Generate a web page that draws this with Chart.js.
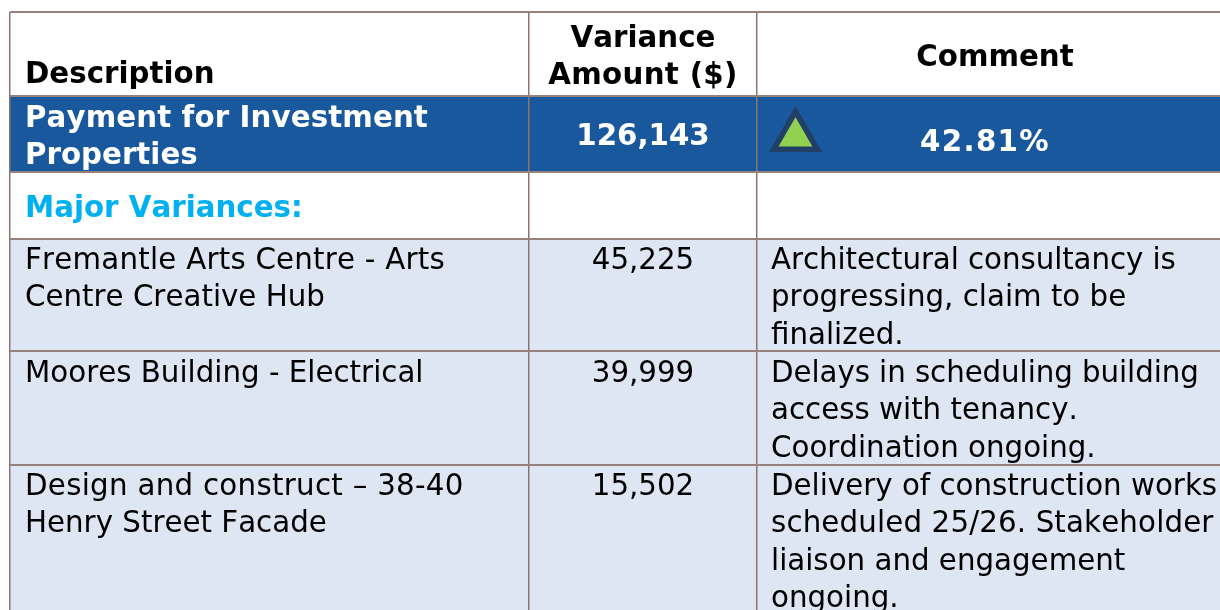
<!DOCTYPE html>
<html>
<head>
<meta charset="utf-8">
<style>
html, body { margin: 0; padding: 0; background: #fff; overflow: hidden; }
#wrap { width: 1220px; height: 610px; }
</style>
<script src="https://cdn.jsdelivr.net/npm/chart.js@4"></script>
</head>
<body>
<div id="wrap"><canvas id="table"></canvas></div>
<script>
var headers = [["Description"], ["Variance", "Amount ($)"], ["Comment"]];
var totalDescription = ["Payment for Investment", "Properties"];
var totalAmount = "126,143";
var totalPercent = "42.81%";
var sectionLabel = "Major Variances:";
var descriptions = [
  ["Fremantle Arts Centre - Arts", "Centre Creative Hub"],
  ["Moores Building - Electrical"],
  ["Design and construct \u2013 38-40", "Henry Street Facade"]
];
var amounts = ["45,225", "39,999", "15,502"];
var comments = [
  ["Architectural consultancy is", "progressing, claim to be", "finalized."],
  ["Delays in scheduling building", "access with tenancy.", "Coordination ongoing."],
  ["Delivery of construction works", "scheduled 25/26. Stakeholder", "liaison and engagement", "ongoing."]
];

// layout, in the pixels of the picture (axes run in picture pixels)
var colEdges = [10, 529, 757];
var rowEdges = [12, 96, 172, 239, 351, 465];
var rowBaselines = [269, 382, 495];
var lineHeight = 37.4;
var font = '"DejaVu Sans", Verdana, sans-serif';
var border = "#8c7470";
// the reference face is a little wider on some lines than DejaVu
var letterSpacing = {
  "Payment for Investment": 0.1,
  "Fremantle Arts Centre - Arts": 0.22,
  "Design and construct \u2013 38-40": 0.28,
  "42.81%": 1.3,
  "Amount ($)": 0.3,
  "Architectural consultancy is": -0.07,
  "Delays in scheduling building": -0.07,
  "scheduled 25/26. Stakeholder": 0.14
};

function band(top, bottom, color) {
  return {
    type: "bar",
    data: [{ x: [colEdges[0], 1220], y: (top + bottom) / 2 }],
    backgroundColor: color,
    barThickness: bottom - top,
    grouped: false,
    order: 3
  };
}

var drawText = {
  id: "drawText",
  afterDatasetsDraw: function (chart) {
    var c = chart.ctx, xs = chart.scales.x, ys = chart.scales.y;
    function put(lines, x, y, align, weight, color) {
      c.font = weight + " 29.3px " + font;
      c.fontKerning = "none";
      c.textAlign = align;
      c.textBaseline = "alphabetic";
      c.fillStyle = color;
      lines.forEach(function (t, i) {
        c.letterSpacing = (letterSpacing[t] || 0) + "px";
        c.fillText(t, xs.getPixelForValue(x), ys.getPixelForValue(y + i * lineHeight));
      });
    }
    c.save();
    put(headers[0], 25, 83, "left", "bold", "#000");
    put(headers[1], 643, 47, "center", "bold", "#000");
    put(headers[2], 995, 66, "center", "bold", "#000");
    put(totalDescription, 25, 127, "left", "bold", "#fff");
    put([totalAmount], 643, 145, "center", "bold", "#fff");
    put([totalPercent], 985, 151, "center", "bold", "#fff");
    put([sectionLabel], 25, 217, "left", "bold", "#00b0f0");
    descriptions.forEach(function (d, i) {
      put(d, 25, rowBaselines[i], "left", "normal", "#000");
      put([amounts[i]], 643, rowBaselines[i], "center", "normal", "#000");
      put(comments[i], 771, rowBaselines[i], "left", "normal", "#000");
    });
    c.restore();
  }
};

new Chart(document.getElementById("table"), {
  data: {
    datasets: [
      band(rowEdges[1], rowEdges[2], "#19589c"),
      band(rowEdges[3], 610, "#dfe6f3"),
      {
        type: "scatter",
        data: [{ x: 795.5, y: 136.7 }],
        pointStyle: "triangle",
        pointRadius: 25.1,
        pointBackgroundColor: "#92d050",
        pointBorderColor: "#223f66",
        pointBorderWidth: 5.5,
        order: 1
      }
    ]
  },
  options: {
    indexAxis: "y",
    responsive: true,
    maintainAspectRatio: false,
    animation: false,
    layout: { autoPadding: false, padding: { left: colEdges[0], top: rowEdges[0], right: 0, bottom: 0 } },
    plugins: { legend: { display: false }, tooltip: { enabled: false } },
    scales: {
      x: {
        type: "linear", min: colEdges[0], max: 1220, display: true,
        afterFit: function (s) { s.height = 0; },
        afterBuildTicks: function (s) { s.ticks = colEdges.map(function (v) { return { value: v }; }); },
        ticks: { display: false },
        border: { display: false },
        grid: { color: border, lineWidth: 1.5, drawTicks: false, z: 1 }
      },
      y: {
        type: "linear", min: rowEdges[0], max: 610, reverse: true, display: true, offset: false,
        afterFit: function (s) { s.width = 0; },
        afterBuildTicks: function (s) { s.ticks = rowEdges.map(function (v) { return { value: v }; }); },
        ticks: { display: false },
        border: { display: false },
        grid: { color: "#96817d", lineWidth: 2, drawTicks: false, offset: false, z: 1 }
      }
    }
  },
  plugins: [drawText]
});
</script>
</body>
</html>
